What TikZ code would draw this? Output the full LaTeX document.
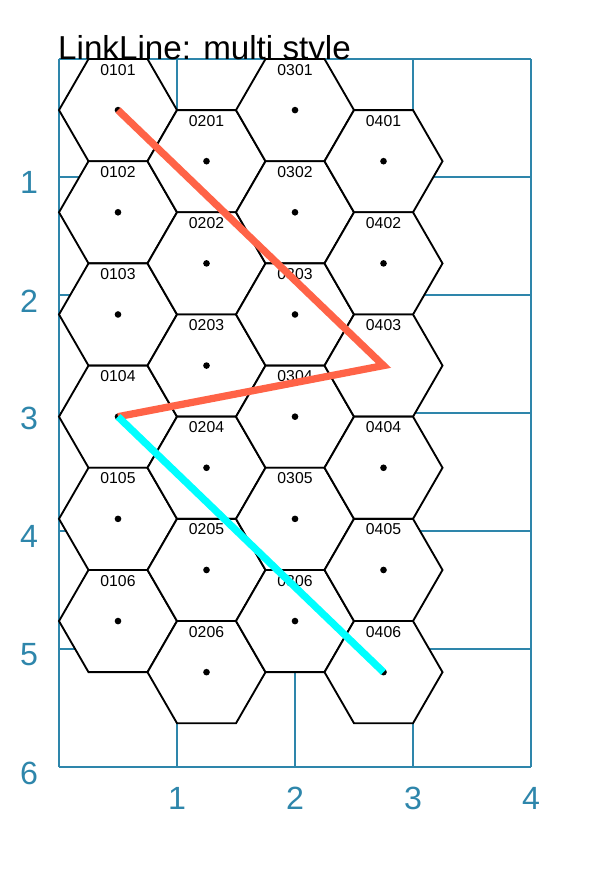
\documentclass[tikz,border=0pt]{standalone}
\usepackage{fontspec}
\setmainfont{Liberation Sans}
\usetikzlibrary{shapes.geometric,positioning}
\definecolor{axisblue}{RGB}{46,134,171}
\definecolor{linkred}{RGB}{255,99,71}
\definecolor{linkcyan}{RGB}{0,255,255}

\begin{document}
\begin{tikzpicture}[x=2cm,y=-2cm]

  \tikzstyle{hexcell}=[regular polygon,regular polygon sides=6,
    minimum size=2cm,inner sep=0pt,outer sep=0pt,
    draw=black,line width=0.9pt,fill=white]
  \tikzstyle{hexlabel}=[font=\fontsize{7.6}{9}\selectfont,inner sep=0pt]
  \tikzstyle{axislabel}=[font=\fontsize{15.5}{18}\selectfont,
    text=axisblue,inner sep=0pt]
  \tikzstyle{link}=[line width=3.5pt]

  \useasboundingbox (-0.5,-0.5) rectangle (4.695,6.915);

  % grid and axes
  \draw [axisblue,line width=0.9pt,step=2cm] (0,0) grid (4,6);
  \foreach \i in {1,...,4}
    \node(xl\i)[axislabel] at (\i,6.267) {\i};
  \foreach \j in {1,...,6}
    \node(yl\j)[axislabel] at (-0.254,\j+0.05) {\j};

  \node(title)[anchor=base west,inner sep=0pt,
    font=\fontsize{16}{19}\selectfont] at (-0.01,0) {LinkLine: multi style};

  % hex map
  \foreach \c in {1,...,4}
    \foreach \r in {1,...,6} {
      \pgfmathsetmacro\hx{0.5+0.75*(\c-1)}
      \pgfmathsetmacro\hy{0.433*(2*\r-1)+0.433*(1-mod(\c,2))}
      \node(h0\c0\r)[hexcell] at (\hx,\hy) {};
      \fill (h0\c0\r.center) circle (1.6pt);
      \node(l0\c0\r)[hexlabel] at ([yshift=0.686cm]h0\c0\r.center) {0\c0\r};
    }

  % links
  \draw [link,linkred]
  (h0101.center)--(h0403.center)--(h0104.center);
  \draw [link,linkcyan]
  (h0104.center)--(h0406.center);

\end{tikzpicture}
\end{document}
